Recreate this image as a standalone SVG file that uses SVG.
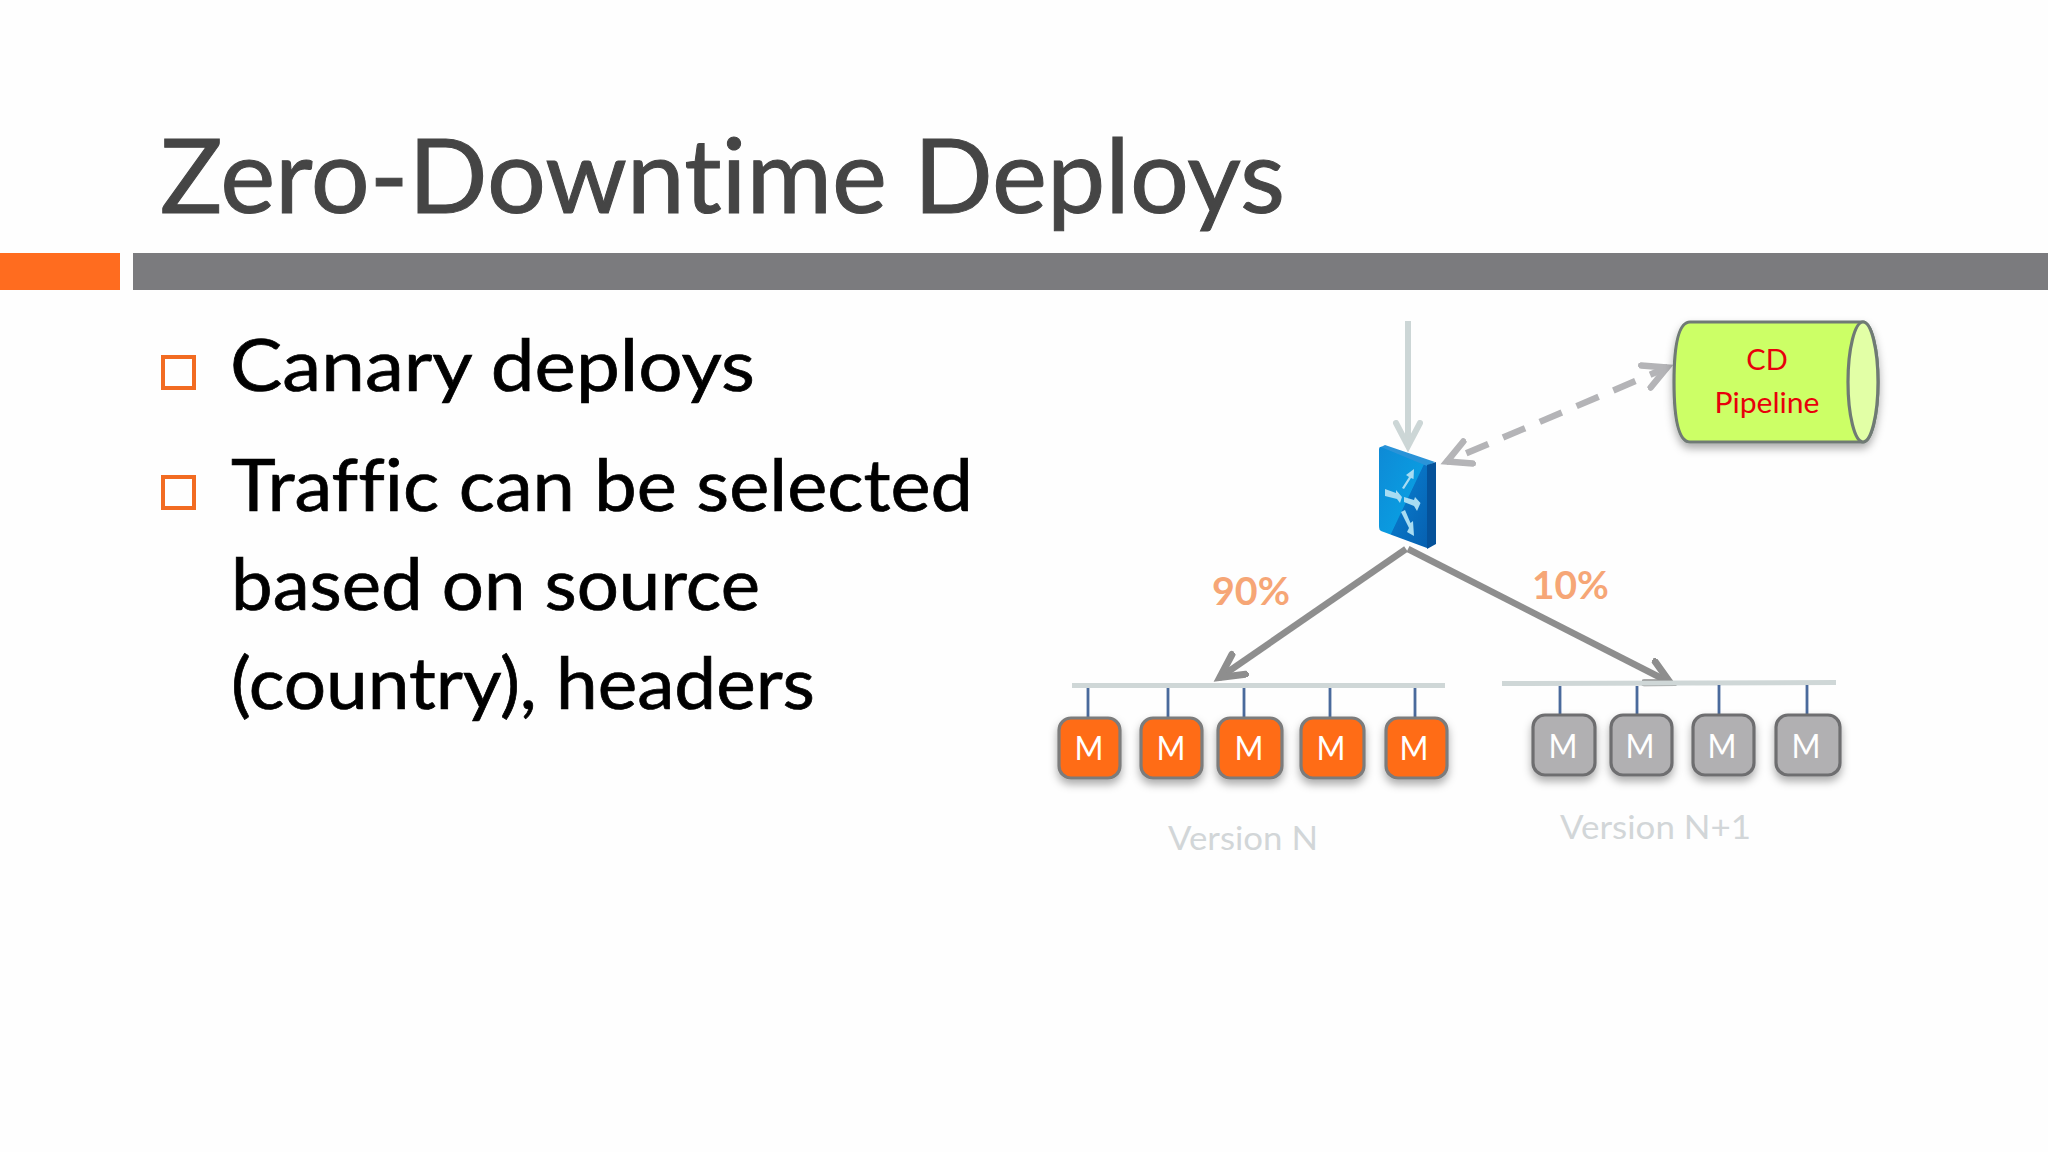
<svg xmlns="http://www.w3.org/2000/svg" width="2048" height="1152" viewBox="0 0 2048 1152">
<style>
text{font-family:"Lato","Liberation Sans",sans-serif;font-variant-ligatures:none}
.title{font-size:102px;fill:#454545;stroke:#454545;stroke-width:1}
.body{font-size:71px;fill:#000;stroke:#000;stroke-width:.7}
.bullet{fill:none;stroke:#f26b21;stroke-width:4}
.bus{fill:#cfd7d7}
.stem{stroke:#4a6a9c;stroke-width:2.8;fill:none}
.box{stroke-width:3.2}
.org{fill:#ff6c19;stroke:#7b7b7b}
.gry{fill:#b1b0b2;stroke:#6e6e70}
.m{font-size:32px;fill:#fff;text-anchor:middle}
.ver{font-size:33px;fill:#d2d6d8}
.pct{font-size:38px;fill:#f6a676;font-weight:700}
.cd{font-size:29px;fill:#e8000b;text-anchor:middle}
.flow{stroke:#8e8e8e;stroke-width:6.5;fill:none}
</style>
<defs>
<filter id="sh" x="-30%" y="-30%" width="160%" height="170%"><feDropShadow dx="0" dy="5" stdDeviation="4" flood-color="#000" flood-opacity="0.32"/></filter>
<marker id="ag" markerUnits="userSpaceOnUse" markerWidth="40" markerHeight="40" refX="27" refY="15" orient="auto"><path d="M3 3 L26 15 L3 27" fill="none" stroke="#8e8e8e" stroke-width="7" stroke-linecap="round"/></marker>
<marker id="al" markerUnits="userSpaceOnUse" markerWidth="40" markerHeight="40" refX="27" refY="15" orient="auto"><path d="M3 3 L26 15 L3 27" fill="none" stroke="#ccd6d6" stroke-width="6" stroke-linecap="round"/></marker>
<marker id="ad" markerUnits="userSpaceOnUse" markerWidth="40" markerHeight="40" refX="27" refY="15" orient="auto-start-reverse"><path d="M3 3 L26 15 L3 27" fill="none" stroke="#b4b4b7" stroke-width="6.5" stroke-linecap="round"/></marker>
<linearGradient id="face" x1="0" y1="0" x2="1" y2="1"><stop offset="0" stop-color="#0e8ad6"/><stop offset="0.55" stop-color="#0a9be0"/><stop offset="0.56" stop-color="#0873c4"/><stop offset="1" stop-color="#0660b0"/></linearGradient>
</defs>
<rect width="2048" height="1152" fill="#fefefe"/>
<rect x="0" y="253" width="120" height="37" fill="#ff6c1f"/>
<rect x="133" y="253" width="1915" height="37" fill="#7b7b7e"/>
<text class="title" x="160" y="213" textLength="1125" lengthAdjust="spacingAndGlyphs">Zero-Downtime Deploys</text>
<rect class="bullet" x="163" y="357" width="31" height="31"/>
<rect class="bullet" x="163" y="477" width="31" height="31"/>
<text class="body" x="230" y="391" textLength="525" lengthAdjust="spacingAndGlyphs">Canary deploys</text>
<text class="body" x="231" y="511" textLength="742" lengthAdjust="spacingAndGlyphs">Traffic can be selected</text>
<text class="body" x="231" y="610" textLength="529" lengthAdjust="spacingAndGlyphs">based on source</text>
<text class="body" x="231" y="709" textLength="584" lengthAdjust="spacingAndGlyphs">(country), headers</text>

<g id="connectors">
<path d="M1408 321V447" stroke="#ccd6d6" stroke-width="6" fill="none" marker-end="url(#al)"/>
<path d="M1446 462L1668 367" stroke="#b4b4b7" stroke-width="6.5" fill="none" stroke-dasharray="24 16" stroke-dashoffset="-22" marker-start="url(#ad)" marker-end="url(#ad)"/>
<path class="flow" d="M1406 549L1219 678" marker-end="url(#ag)"/>
<path class="flow" d="M1408 549L1671 683" marker-end="url(#ag)"/>
</g>

<g id="switch">
<path d="M1379 449Q1379 446 1383 447L1427 465V548L1381 531Q1379 530 1379 526Z" fill="url(#face)"/>
<path d="M1381 447L1385 445L1435 462L1427 466Z" fill="#2a93d8"/>
<path d="M1427 465L1436 462V544L1427 549Z" fill="#05529a"/>
<g fill="#a8dcf2">
<path d="M1402 488L1409 477L1406 475L1414 469L1413.5 479L1411 478L1404 489Z"/>
<path d="M1385 489L1396 493L1396 490L1402 497L1400 503L1397 499L1385 496Z"/>
<path d="M1404 497L1414 500L1415 497L1420.5 503L1417 511L1414 506L1404 502Z"/>
<path d="M1401 512L1405 510L1410.5 523L1413 521L1414 536L1407 532L1409 528Z"/>
</g>
</g>

<g id="cd-pipeline">
<g filter="url(#sh)">
<path d="M1690 322H1863A15 60 0 0 1 1863 442H1690Q1674 442 1674 382Q1674 322 1690 322Z" fill="#ccff66" stroke="#6f7a74" stroke-width="3.2"/>
</g>
<ellipse cx="1863" cy="382" rx="15" ry="60" fill="#e2ffa6" stroke="#6f7a74" stroke-width="3.2"/>
<text class="cd" x="1767" y="370">CD</text>
<text class="cd" x="1767" y="413" textLength="105" lengthAdjust="spacingAndGlyphs">Pipeline</text>
</g>

<text class="pct" x="1212" y="605" textLength="78" lengthAdjust="spacingAndGlyphs">90%</text>
<text class="pct" x="1532" y="599" textLength="77" lengthAdjust="spacingAndGlyphs">10%</text>

<g id="version-n">
<rect class="bus" x="1072" y="683" width="373" height="5"/>
<path class="stem" d="M1088 688V718M1168 688V718M1244 688V718M1330 688V718M1415 688V718"/>
<g id="m1"><rect class="box org" x="1059" y="718" width="61" height="60" rx="12" filter="url(#sh)"/><text class="m" x="1089" y="760" textLength="29" lengthAdjust="spacingAndGlyphs">M</text></g>
<g id="m2"><rect class="box org" x="1141" y="718" width="61" height="60" rx="12" filter="url(#sh)"/><text class="m" x="1171" y="760" textLength="29" lengthAdjust="spacingAndGlyphs">M</text></g>
<g id="m3"><rect class="box org" x="1218" y="718" width="64" height="60" rx="12" filter="url(#sh)"/><text class="m" x="1249" y="760" textLength="29" lengthAdjust="spacingAndGlyphs">M</text></g>
<g id="m4"><rect class="box org" x="1301" y="718" width="63" height="60" rx="12" filter="url(#sh)"/><text class="m" x="1331" y="760" textLength="29" lengthAdjust="spacingAndGlyphs">M</text></g>
<g id="m5"><rect class="box org" x="1386" y="718" width="61" height="60" rx="12" filter="url(#sh)"/><text class="m" x="1414" y="760" textLength="29" lengthAdjust="spacingAndGlyphs">M</text></g>
<text class="ver" x="1168" y="850" textLength="150" lengthAdjust="spacingAndGlyphs">Version N</text>
</g>

<g id="version-n1">
<path class="bus" d="M1502 681L1836 680V685L1502 686Z"/>
<path class="stem" d="M1560 686V715M1637 686V715M1719 685V715M1807 685V715"/>
<g id="g1"><rect class="box gry" x="1533" y="715" width="62" height="60" rx="12" filter="url(#sh)"/><text class="m" x="1563" y="758" textLength="29" lengthAdjust="spacingAndGlyphs">M</text></g>
<g id="g2"><rect class="box gry" x="1611" y="715" width="61" height="60" rx="12" filter="url(#sh)"/><text class="m" x="1640" y="758" textLength="29" lengthAdjust="spacingAndGlyphs">M</text></g>
<g id="g3"><rect class="box gry" x="1693" y="715" width="61" height="60" rx="12" filter="url(#sh)"/><text class="m" x="1722" y="758" textLength="29" lengthAdjust="spacingAndGlyphs">M</text></g>
<g id="g4"><rect class="box gry" x="1776" y="715" width="64" height="60" rx="12" filter="url(#sh)"/><text class="m" x="1806" y="758" textLength="29" lengthAdjust="spacingAndGlyphs">M</text></g>
<text class="ver" x="1560" y="839" textLength="191" lengthAdjust="spacingAndGlyphs">Version N+1</text>
</g>
</svg>
